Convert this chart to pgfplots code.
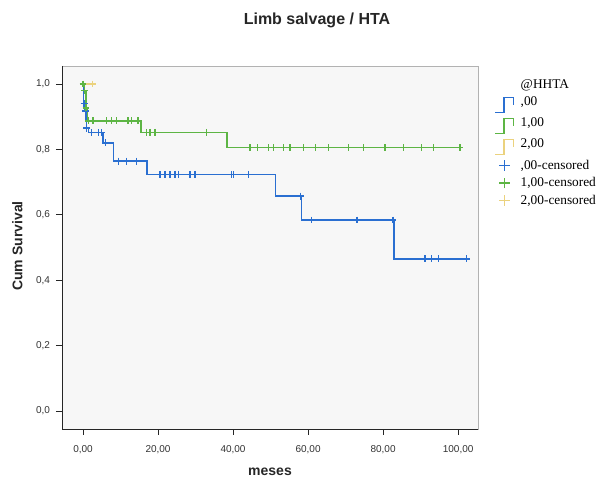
\documentclass[border=0pt]{standalone}
\usepackage{fontspec}
\setmainfont{Liberation Sans}
\newfontfamily\legfont{Liberation Serif}
\usepackage{pgfplots}
\pgfplotsset{compat=1.18}
\definecolor{kmblue}{HTML}{2A6FD1}
\definecolor{kmgreen}{HTML}{5DB544}
\definecolor{kmyellow}{HTML}{EBD27E}
\pgfplotsset{
  steplegend/.style={legend image code/.code={
    \draw[##1,line width=1pt] (0pt,-7.5pt) -- (6.5pt,-7.5pt) -- (6.5pt,3.5pt) -- (13.5pt,3.5pt) -- (13.5pt,-2pt);}},
  censlegend/.style={legend image code/.code={
    \draw[##1,line width=1pt] (7pt,-4pt) -- (7pt,4pt) (3pt,0pt) -- (11pt,0pt);}}
}
\begin{document}
\begin{tikzpicture}
  \useasboundingbox (0,0) rectangle (459pt,357.75pt);
  \begin{axis}[
    at={(46.5pt,36pt)}, anchor=south west,
    scale only axis, width=312pt, height=272.25pt,
    xmin=-5.6, xmax=105.3, ymin=-0.055, ymax=1.055,
    xtick={0,20,40,60,80,100},
    ytick={0,0.2,0.4,0.6,0.8,1.0},
    tick pos=left, tick align=outside, major tick length=4.5pt,
    tick style={black!85, line width=0.6pt},
    axis line style={draw=gray!60, line width=0.6pt},
    axis background/.style={fill=black!3},
    /pgf/number format/assume math mode=true,
    xticklabel={\pgfmathprintnumber[fixed,fixed zerofill,precision=2,use comma]{\tick}},
    yticklabel={\pgfmathprintnumber[fixed,fixed zerofill,precision=1,use comma]{\tick}},
    tick label style={font=\fontsize{7.5}{8}\selectfont, black!80},
    xticklabel style={yshift=-4.5pt},
    yticklabel style={xshift=-1pt},
    legend style={draw=none, fill=none, at={(1.03,0.974)}, anchor=north west,
      font=\legfont\fontsize{10}{11}\selectfont, row sep=2.7pt,
      nodes={inner sep=1pt},
      /tikz/every odd column/.append style={column sep=4pt}},
    legend cell align=left,
    clip=false
  ]
    % group ,00
    \addplot[kmblue, line width=1.1pt, const plot, forget plot] coordinates {
      (0,1.0) (0.2,0.94) (0.5,0.917) (0.8,0.89) (1.0,0.865) (1.4,0.851)
      (5.3,0.82) (8.2,0.764) (17.1,0.724) (51.3,0.657) (58.3,0.584)
      (82.9,0.465) (102.3,0.465)};
    \addplot[kmblue, only marks, mark=+, mark size=2.6pt, line width=1pt, forget plot] coordinates {
      (0.3,0.94) (0.6,0.917) (1.0,0.865) (2.3,0.851) (4.1,0.851) (5.0,0.851)
      (6.0,0.82) (9.4,0.764) (11.6,0.764) (14.3,0.764)
      (20.5,0.724) (21.9,0.724) (23.2,0.724) (24.5,0.724) (25.4,0.724)
      (28.5,0.724) (29.9,0.724) (39.6,0.724) (40.1,0.724) (44.1,0.724)
      (57.9,0.657) (61.0,0.584) (73.0,0.584) (82.6,0.584)
      (91.2,0.465) (92.9,0.465) (94.7,0.465) (102.3,0.465)};
    % group 1,00
    \addplot[kmgreen, line width=1.1pt, const plot, forget plot] coordinates {
      (0,1.0) (0.4,0.98) (0.8,0.927) (1.2,0.887) (15.5,0.852)
      (38.4,0.805) (100.5,0.805)};
    \addplot[kmgreen, only marks, mark=+, mark size=2.6pt, line width=1pt, forget plot] coordinates {
      (0,1.0) (0.4,0.98) (0.8,0.927) (1.5,0.887) (2.7,0.887) (6.3,0.887)
      (7.6,0.887) (9.0,0.887) (12.0,0.887) (13.0,0.887) (14.7,0.887)
      (17.0,0.852) (17.9,0.852) (19.2,0.852) (33.0,0.852)
      (44.5,0.805) (46.5,0.805) (49.5,0.805) (50.8,0.805) (53.5,0.805)
      (55.2,0.805) (58.8,0.805) (61.9,0.805) (65.4,0.805) (70.8,0.805)
      (74.8,0.805) (80.5,0.805) (85.4,0.805) (90.3,0.805) (93.4,0.805)
      (100.5,0.805)};
    % group 2,00
    \addplot[kmyellow, line width=1.1pt, const plot, forget plot] coordinates {
      (0,1.0) (2.5,1.0)};
    \addplot[kmyellow, only marks, mark=+, mark size=2.6pt, line width=1pt, forget plot] coordinates {
      (2.5,1.0)};

    \draw[black!85, line width=0.7pt] (rel axis cs:0,1) -- (rel axis cs:0,0) -- (rel axis cs:1,0);

    \addlegendimage{empty legend}
    \addlegendentry{@HHTA}
    \addlegendimage{steplegend, kmblue}
    \addlegendentry{,00}
    \addlegendimage{steplegend, kmgreen}
    \addlegendentry{1,00}
    \addlegendimage{steplegend, kmyellow}
    \addlegendentry{2,00}
    \addlegendimage{censlegend, kmblue}
    \addlegendentry{,00-censored}
    \addlegendimage{censlegend, kmgreen}
    \addlegendentry{1,00-censored}
    \addlegendimage{censlegend, kmyellow}
    \addlegendentry{2,00-censored}
  \end{axis}
  \node[font=\bfseries\fontsize{12}{13}\selectfont, black!85] at (237.75pt,342.75pt) {Limb salvage / HTA};
  \node[font=\bfseries\fontsize{10.5}{11}\selectfont, black!85, rotate=90] at (13pt,173.25pt) {Cum Survival};
  \node[font=\bfseries\fontsize{10.5}{11}\selectfont, black!85] at (202.5pt,4pt) {meses};
\end{tikzpicture}
\end{document}
